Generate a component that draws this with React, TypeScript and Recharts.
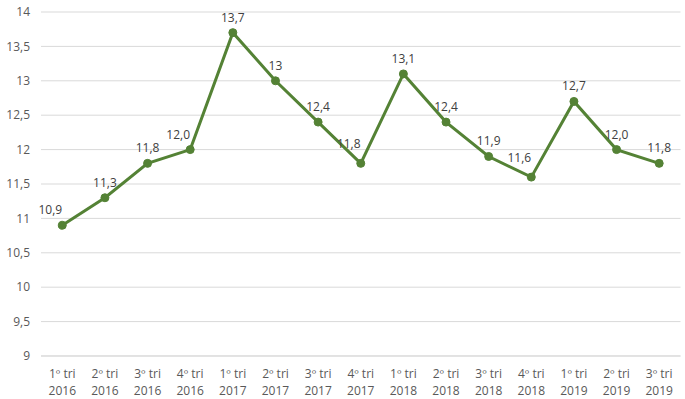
import { LineChart, Line, XAxis, YAxis, CartesianGrid, LabelList } from 'recharts'

const periodos = ['1º tri', '2º tri', '3º tri', '4º tri', '1º tri', '2º tri', '3º tri', '4º tri', '1º tri', '2º tri', '3º tri', '4º tri', '1º tri', '2º tri', '3º tri']
const anos = ['2016', '2016', '2016', '2016', '2017', '2017', '2017', '2017', '2018', '2018', '2018', '2018', '2019', '2019', '2019']
const valores = [10.9, 11.3, 11.8, 12.0, 13.7, 13.0, 12.4, 11.8, 13.1, 12.4, 11.9, 11.6, 12.7, 12.0, 11.8]
const rotulos = ['10,9', '11,3', '11,8', '12,0', '13,7', '13', '12,4', '11,8', '13,1', '12,4', '11,9', '11,6', '12,7', '12,0', '11,8']
const yTicks = [9, 9.5, 10, 10.5, 11, 11.5, 12, 12.5, 13, 13.5, 14]

const data = valores.map((v, i) => ({
  cat: `${periodos[i]} ${anos[i]}`,
  periodo: periodos[i],
  ano: anos[i],
  valor: v,
  rotulo: rotulos[i],
}))

const FONT = 'Open Sans, sans-serif'
const VERDE = '#548235'

// rótulo do eixo X em duas linhas
function TickX(props: any) {
  const { x, y, index } = props
  return (
    <g>
      <text x={x} y={y + 22} textAnchor="middle" fontSize={12} fill="#595959" fontFamily={FONT}>{periodos[index]}</text>
      <text x={x} y={y + 39} textAnchor="middle" fontSize={12} fill="#595959" fontFamily={FONT}>{anos[index]}</text>
    </g>
  )
}

// rótulo de dado: afasta do traço quando a linha sobe forte logo depois (como o Excel faz)
function Rotulo(props: any) {
  const { x, y, index } = props
  const sobe = index < valores.length - 1 ? valores[index + 1] - valores[index] : 0
  const desce = index > 0 ? valores[index - 1] - valores[index] : 0
  let dx = 0
  let dy = 0
  if (sobe >= 1 || index === 0) dx = -12
  if (sobe >= 1 && desce > 0) dy = -4
  return (
    <text x={x + dx} y={y - 11 + dy} textAnchor="middle" fontSize={12} fill="#404040" fontFamily={FONT}>
      {rotulos[index]}
    </text>
  )
}

export default function App() {
  return (
    <div style={{ position: 'absolute', left: 0, top: 0, background: '#fff' }}>
      <LineChart width={685} height={399} data={data} margin={{ top: 12, right: 4.5, bottom: 0, left: 0 }}>
        <CartesianGrid vertical={false} stroke="#d9d9d9" />
        <XAxis dataKey="cat" height={43} axisLine={{ stroke: '#d9d9d9' }} tickLine={false} tickSize={0}
          tickMargin={0} interval={0} tick={<TickX />} padding={{ left: 21.3, right: 21.3 }} />
        <YAxis domain={[9, 14]} ticks={yTicks} width={41} axisLine={false} tickLine={false} tickSize={0}
          tickMargin={11} tickFormatter={v => String(v).replace('.', ',')}
          tick={{ fontSize: 12, fill: '#595959', fontFamily: FONT }} />
        <Line type="linear" dataKey="valor" stroke={VERDE} strokeWidth={3}
          dot={{ r: 4, fill: VERDE, stroke: VERDE, strokeWidth: 1 }} isAnimationActive={false}>
          <LabelList dataKey="rotulo" content={<Rotulo />} />
        </Line>
      </LineChart>
    </div>
  )
}
